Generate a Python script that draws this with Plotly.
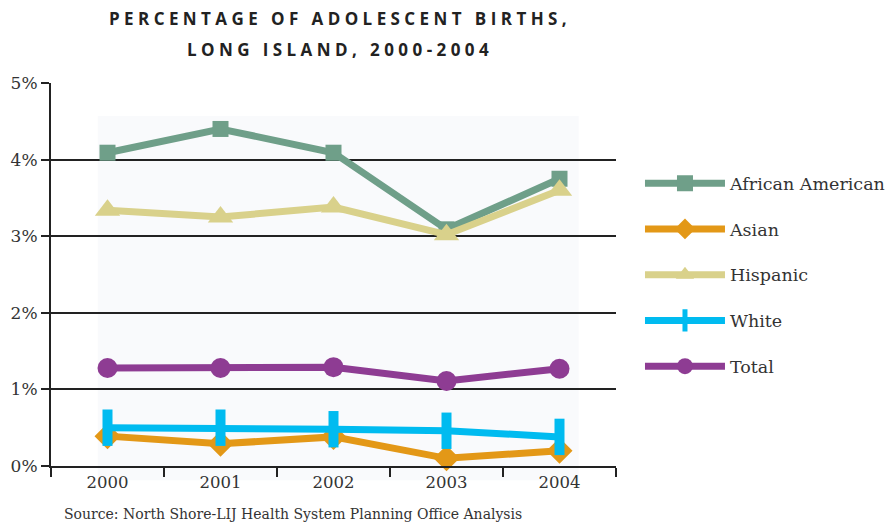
import plotly.graph_objects as go

years = ['2000', '2001', '2002', '2003', '2004']
african_american = [4.09, 4.40, 4.09, 3.09, 3.75]
asian = [0.39, 0.29, 0.38, 0.10, 0.20]
hispanic = [3.34, 3.25, 3.38, 3.02, 3.60]
white = [0.50, 0.50, 0.48, 0.46, 0.38]
total = [1.28, 1.28, 1.29, 1.11, 1.27]

y_ticks = [0, 1, 2, 3, 4, 5]
y_labels = ['0%', '1%', '2%', '3%', '4%', '5%']

series = [
    ('African American', african_american, '#6f9f89', 'square', 16),
    ('Asian', asian, '#e39817', 'diamond', 20),
    ('Hispanic', hispanic, '#d9d18b', 'triangle-up', 22),
    ('White', white, '#00bbf0', 'line-ns', 26),
    ('Total', total, '#8e3c93', 'circle', 20),
]

SERIF = 'DejaVu Serif'

fig = go.Figure()

for name, vals, color, symbol, size in series:
    marker = dict(symbol=symbol, size=size, color=color)
    if symbol == 'line-ns':
        marker['line'] = dict(color=color, width=10)
    fig.add_trace(go.Scatter(
        x=years,
        y=vals,
        name=name,
        legendgroup=name,
        mode='lines+markers',
        line=dict(color=color, width=7),
        marker=marker,
        cliponaxis=False
    ))

fig.update_layout(
    width=888,
    height=523,
    margin=dict(l=51, r=272, t=83, b=57),
    plot_bgcolor='white',
    paper_bgcolor='white',
    showlegend=True,
    legend=dict(
        xref='container', yref='container',
        x=0.7207, xanchor='left',
        y=0.684, yanchor='top',
        font=dict(family=SERIF, size=17.5, color='#333333'),
        traceorder='grouped',
        tracegroupgap=20,
        itemwidth=80,
        bgcolor='rgba(0,0,0,0)'
    ),
    xaxis=dict(
        type='category',
        range=[-0.5, 4.5],
        tickson='boundaries',
        ticks='outside',
        ticklen=9,
        tickwidth=2,
        tickcolor='#222222',
        showline=True,
        linecolor='#222222',
        linewidth=2,
        showgrid=False,
        tickfont=dict(family=SERIF, size=16.5, color='#333333'),
        fixedrange=True
    ),
    yaxis=dict(
        range=[0, 5],
        tickvals=y_ticks,
        ticktext=y_labels,
        ticks='outside',
        ticklen=8,
        tickwidth=2,
        tickcolor='#222222',
        showline=True,
        linecolor='#222222',
        linewidth=2,
        showgrid=True,
        gridcolor='#222222',
        gridwidth=2,
        zeroline=False,
        tickfont=dict(family=SERIF, size=17, color='#333333'),
        fixedrange=True
    ),
    shapes=[dict(
        type='rect', xref='paper', yref='paper',
        x0=0.083, x1=0.934, y0=-0.037, y1=0.914,
        fillcolor='#f3f5f9', opacity=0.5, line=dict(width=0),
        layer='between'
    )],
    annotations=[
        dict(
            text='P E R C E N T A G E   O F   A D O L E S C E N T   B I R T H S ,',
            xref='paper', yref='paper', x=0.508, y=1, yshift=65,
            showarrow=False, xanchor='center', yanchor='middle',
            font=dict(family='Open Sans', size=17, color='#222222', weight='bold')
        ),
        dict(
            text='L O N G   I S L A N D ,   2 0 0 0 - 2 0 0 4',
            xref='paper', yref='paper', x=0.508, y=1, yshift=34,
            showarrow=False, xanchor='center', yanchor='middle',
            font=dict(family='Open Sans', size=17, color='#222222', weight='bold')
        ),
        dict(
            text='Source: North Shore-LIJ Health System Planning Office Analysis',
            xref='paper', yref='paper', x=0.0195, y=0, yshift=-48,
            showarrow=False, xanchor='left', yanchor='middle',
            font=dict(family=SERIF, size=14, color='#333333')
        ),
    ]
)

# drop the default body margin so the figure sits at the page's top-left corner
fig.write_html("out.html", config={'displayModeBar': False},
               post_script="document.body.style.margin='0';")
